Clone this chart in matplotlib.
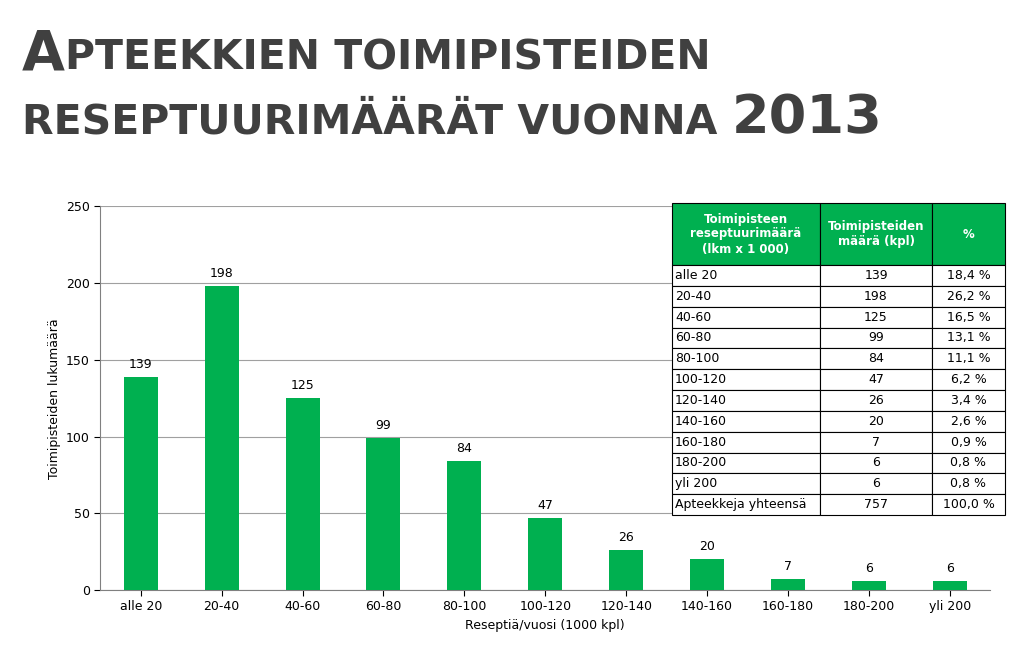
import matplotlib
matplotlib.use("Agg")
import matplotlib.pyplot as plt

categories = ["alle 20", "20-40", "40-60", "60-80", "80-100", "100-120", "120-140", "140-160", "160-180", "180-200", "yli 200"]
counts = [139, 198, 125, 99, 84, 47, 26, 20, 7, 6, 6]
percents = ["18,4 %", "26,2 %", "16,5 %", "13,1 %", "11,1 %", "6,2 %", "3,4 %", "2,6 %", "0,9 %", "0,8 %", "0,8 %"]
total_label = "Apteekkeja yhteensä"
total_count = 757
total_pct = "100,0 %"
headers = ["Toimipisteen\nreseptuurimäärä\n(lkm x 1 000)", "Toimipisteiden\nmäärä (kpl)", "%"]
yticks = [0, 50, 100, 150, 200, 250]

GREEN = "#00b050"
fig = plt.figure(figsize=(10.24, 6.48), dpi=100)
ax = fig.add_axes([0.098, 0.0895, 0.869, 0.592])
x = range(len(categories))
ax.bar(x, counts, width=0.42, color=GREEN, zorder=3)
for i, v in zip(x, counts):
    ax.text(i, v + 4, str(v), ha="center", va="bottom", fontsize=9)
ax.set_xticks(list(x))
ax.set_xticklabels(categories, fontsize=9)
ax.set_yticks(yticks)
ax.tick_params(axis="y", labelsize=9, length=4)
ax.tick_params(axis="x", length=4)
ax.set_ylim(0, 250)
ax.set_xlim(-0.5, len(categories) - 0.5)
ax.yaxis.grid(True, color="#a0a0a0", lw=0.8, zorder=0)
for s in ["top", "right"]:
    ax.spines[s].set_visible(False)
ax.spines["left"].set_color("#808080")
ax.spines["bottom"].set_color("#808080")
ax.set_ylabel("Toimipisteiden lukumäärä", fontsize=9)
ax.set_xlabel("Reseptiä/vuosi (1000 kpl)", fontsize=9)

# Table
tax = fig.add_axes([672/1024, 1-515/648, (1005-672)/1024, (515-203)/648])
tax.axis("off")
rows = [[c, str(n), p] for c, n, p in zip(categories, counts, percents)]
rows.append([total_label, str(total_count), total_pct])
tbl = tax.table(cellText=[headers] + rows, colWidths=[148, 112, 73], bbox=[0, 0, 1, 1])
tbl.auto_set_font_size(False)
hh = 62/312
rh = (1 - hh) / len(rows)
for (r, c), cell in tbl.get_celld().items():
    cell.set_height(hh if r == 0 else rh)
    cell.set_linewidth(0.8)
    cell.PAD = 0.02
    t = cell.get_text()
    t.set_fontsize(9)
    if r == 0:
        cell.set_facecolor(GREEN)
        t.set_color("white")
        t.set_fontweight("bold")
        t.set_fontsize(8.5)
        cell._loc = "center"
        t.set_ha("center")
    else:
        if c == 0:
            cell._loc = "left"
            t.set_ha("left")
        else:
            cell._loc = "center"
            t.set_ha("center")

# Title
fig.canvas.draw()
r = fig.canvas.get_renderer()
col = "#404040"
def seq(pieces, x0, ybase):
    xp = x0
    for s, size in pieces:
        t = fig.text(xp/1024, 1 - ybase/648, s, fontsize=size, fontweight="bold",
                     family="DejaVu Sans", color=col, va="baseline", ha="left")
        bb = t.get_window_extent(renderer=r)
        xp += bb.width
seq([("A", 40), ("PTEEKKIEN TOIMIPISTEIDEN", 29.5)], 22, 70)
seq([("RESEPTUURIMÄÄRÄT VUONNA ", 29.5), ("2013", 39)], 22, 133)

fig.savefig("out.png", dpi=100)
